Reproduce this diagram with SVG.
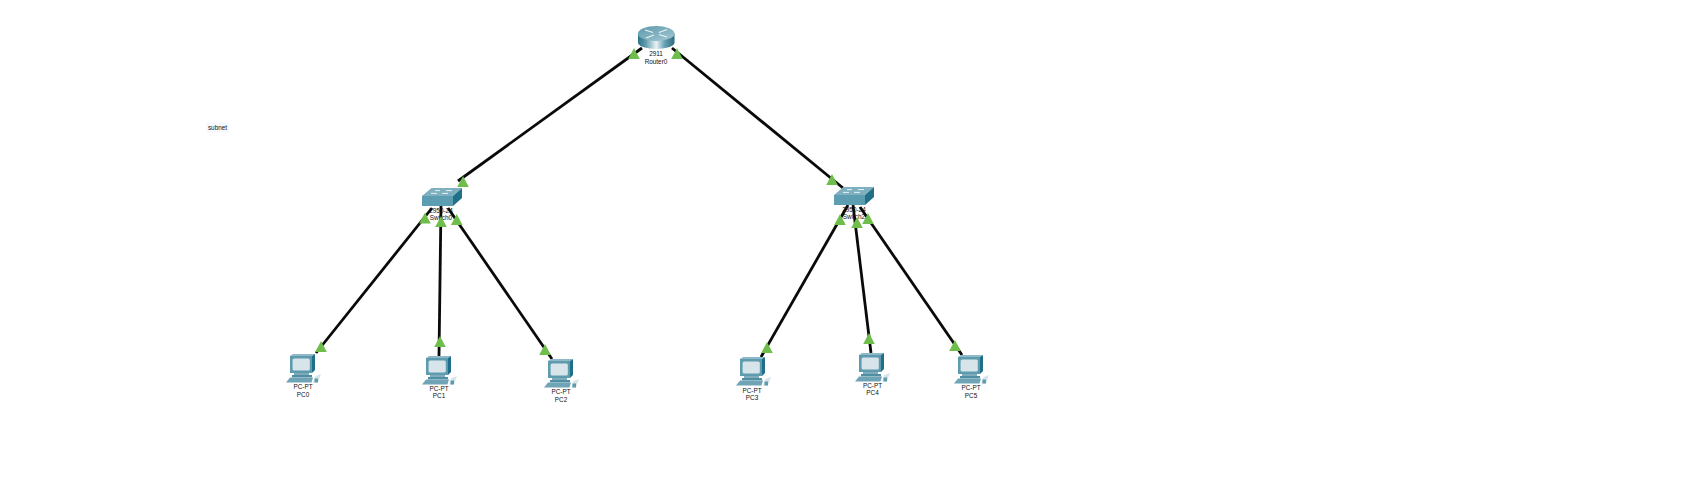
<svg xmlns="http://www.w3.org/2000/svg" xmlns:xlink="http://www.w3.org/1999/xlink" width="1681" height="503" viewBox="0 0 1681 503">
<style>
.link{stroke:#0a0a0a;stroke-width:2.8;fill:none;stroke-linecap:butt}
.lbl{font-family:"Liberation Sans",Arial,sans-serif;font-size:6.4px;fill:#111;text-anchor:middle}
.st{fill:#6fbe4b}
</style>
<defs>
<linearGradient id="rb" x1="0" x2="1" y1="0" y2="0">
<stop offset="0" stop-color="#2f7389"/><stop offset=".2" stop-color="#5c98ab"/><stop offset=".5" stop-color="#eaf4f6"/><stop offset=".72" stop-color="#6ba3b5"/><stop offset="1" stop-color="#2a6a80"/>
</linearGradient>
<linearGradient id="rt" x1="0" x2="1" y1="0" y2="1">
<stop offset="0" stop-color="#5c98ab"/><stop offset="1" stop-color="#a4c8d3"/>
</linearGradient>
<polygon id="tri" class="st" points="0,0 -5.800,11 5.800,11"/>
<g id="pc">
<polygon points="0,2 3,0 25,0 22,2" fill="#8fb9c6"/>
<polygon points="22,2 25,0 25,16 22,19" fill="#1f6f8a"/>
<rect x="0" y="2" width="22" height="17" fill="#5f9bae"/>
<rect x="2.600" y="4.400" width="17.200" height="12.200" rx="1.500" fill="#d7e5eb"/>
<rect x="4" y="19" width="15" height="2" fill="#7fabba"/>
<rect x="2" y="21" width="20" height="2.400" fill="#4f8ea3"/>
<polygon points="0,23.500 23,23.500 21.500,28.500 -4,28.500" fill="#6ea4b6"/>
<polygon points="23,28.500 25.500,22 31,20 29.500,24 28,28.500" fill="#d5e4e9"/>
<rect x="24.500" y="24.500" width="3.500" height="4" fill="#5f9bae"/>
</g>
<g id="sw">
<polygon points="0,8 9.500,0 40,0 31,8" fill="#7fb0c0"/>
<polygon points="31,8 40,0 40,10 31,18" fill="#1f7088"/>
<rect x="0" y="8" width="31" height="10" fill="#5d9db2"/>
<path d="M13,2.600h5M24,2.600h6M9,5.400h6M20,5.400h6" stroke="#e6f1f4" stroke-width="1"/>
</g>
</defs>
<rect width="1681" height="503" fill="#fff"/>
<rect x="206" y="122" width="23" height="11" fill="#f7f9fe"/>
<text class="lbl" x="217.500" y="129.500">subnet</text>
<g id="connectors">
<line class="link" x1="642" y1="48" x2="458" y2="181"/>
<line class="link" x1="672" y1="48" x2="843" y2="188"/>
<line class="link" x1="432" y1="208" x2="316" y2="353"/>
<line class="link" x1="441" y1="205" x2="439" y2="356"/>
<line class="link" x1="448" y1="208" x2="552" y2="359"/>
<line class="link" x1="848" y1="205" x2="761" y2="357"/>
<line class="link" x1="853" y1="205" x2="871" y2="353"/>
<line class="link" x1="860" y1="207" x2="962" y2="355"/>
</g>
<g id="Router0">
<path d="M638,33.500V43A18.300,6.500 0 0 0 674.500,43V33.500Z" fill="url(#rb)"/>
<ellipse cx="656.200" cy="33.500" rx="18.300" ry="7.500" fill="url(#rt)"/>
<path d="M645,30l8,2.500M667,29.500l-8,3M646,38l8,-3M667,37l-8,-2.500" stroke="#eaf3f6" stroke-width="1.200" fill="none"/>
<text class="lbl" x="656" y="56">2911</text>
<text class="lbl" x="656" y="63.500">Router0</text>
</g>
<g id="Switch0">
<use xlink:href="#sw" href="#sw" x="422" y="188"/>
<text class="lbl" x="441" y="213">2950-24</text>
<text class="lbl" x="441" y="220">Switch0</text>
</g>
<g id="Switch2">
<use xlink:href="#sw" href="#sw" x="834" y="187"/>
<text class="lbl" x="854" y="212">2950-24</text>
<text class="lbl" x="854" y="219">Switch2</text>
</g>
<g id="PC0"><use xlink:href="#pc" href="#pc" x="290" y="354"/><text class="lbl" x="303" y="389">PC-PT</text><text class="lbl" x="303" y="396.500">PC0</text></g>
<g id="PC1"><use xlink:href="#pc" href="#pc" x="426" y="356"/><text class="lbl" x="439" y="391">PC-PT</text><text class="lbl" x="439" y="398">PC1</text></g>
<g id="PC2"><use xlink:href="#pc" href="#pc" x="548" y="359"/><text class="lbl" x="561" y="394">PC-PT</text><text class="lbl" x="561" y="402">PC2</text></g>
<g id="PC3"><use xlink:href="#pc" href="#pc" x="740" y="357"/><text class="lbl" x="752" y="393">PC-PT</text><text class="lbl" x="752" y="400">PC3</text></g>
<g id="PC4"><use xlink:href="#pc" href="#pc" x="859" y="353"/><text class="lbl" x="872.500" y="388">PC-PT</text><text class="lbl" x="872.500" y="395">PC4</text></g>
<g id="PC5"><use xlink:href="#pc" href="#pc" x="958" y="355"/><text class="lbl" x="971" y="390">PC-PT</text><text class="lbl" x="971" y="398">PC5</text></g>
<g id="link-status">
<use xlink:href="#tri" href="#tri" x="634" y="48"/>
<use xlink:href="#tri" href="#tri" x="677" y="48"/>
<use xlink:href="#tri" href="#tri" x="463" y="176"/>
<use xlink:href="#tri" href="#tri" x="425" y="212.500"/>
<use xlink:href="#tri" href="#tri" x="441" y="216"/>
<use xlink:href="#tri" href="#tri" x="456.700" y="214"/>
<use xlink:href="#tri" href="#tri" x="832" y="174"/>
<use xlink:href="#tri" href="#tri" x="840" y="214"/>
<use xlink:href="#tri" href="#tri" x="857" y="217"/>
<use xlink:href="#tri" href="#tri" x="868" y="213"/>
<use xlink:href="#tri" href="#tri" x="321" y="341"/>
<use xlink:href="#tri" href="#tri" x="440" y="336"/>
<use xlink:href="#tri" href="#tri" x="545" y="344"/>
<use xlink:href="#tri" href="#tri" x="767" y="342"/>
<use xlink:href="#tri" href="#tri" x="869" y="333"/>
<use xlink:href="#tri" href="#tri" x="955" y="340"/>
</g>
</svg>
